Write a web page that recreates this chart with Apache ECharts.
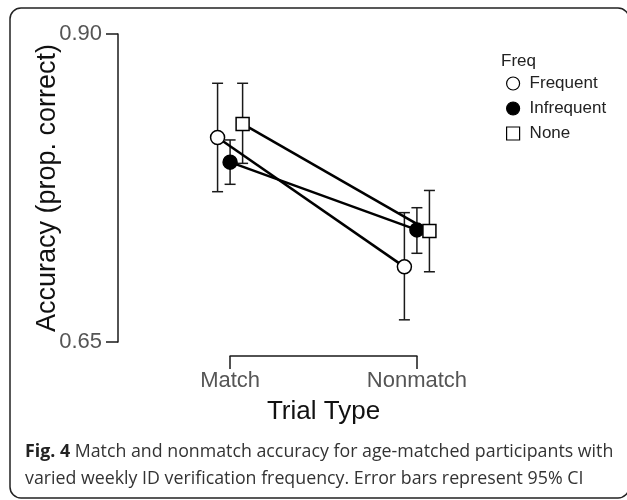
<!DOCTYPE html>
<html>
<head>
<meta charset="utf-8">
<script src="https://cdn.jsdelivr.net/npm/echarts@6/dist/echarts.min.js"></script>
<style>
  html, body { margin: 0; padding: 0; background: #fff; }
  #chart { width: 627px; height: 500px; }
</style>
</head>
<body>
<div id="chart"></div>
<script>
// Trial types on the x axis and the three frequency groups
const trialTypes = ['Match', 'Nonmatch'];
const freqGroups = ['Frequent', 'Infrequent', 'None'];

// Mean accuracy (proportion correct) per group, [Match, Nonmatch]
const meanFrequent   = [0.816, 0.711];
const meanInfrequent = [0.796, 0.741];
const meanNone       = [0.827, 0.740];

// 95% CI bounds per group, [Match, Nonmatch]
const lowFrequent    = [0.772, 0.668];
const highFrequent   = [0.860, 0.755];
const lowInfrequent  = [0.778, 0.722];
const highInfrequent = [0.814, 0.759];
const lowNone        = [0.795, 0.707];
const highNone       = [0.860, 0.773];

// Y axis tick values
const yTicks = [0.65, 0.90];

// ---- layout ----
const gridLeft = 118, gridTop = 34, gridWidth = 411, gridHeight = 308;
const xMin = 0.4, xMax = 2.6;
const dodge = [-0.067, 0, 0.067];
const capHalf = 5.5;
const ink = '#1a1a1a';
const tickGray = '#555';
const sans = 'Liberation Sans, Arial, sans-serif';

const means = [meanFrequent, meanInfrequent, meanNone];
const lows = [lowFrequent, lowInfrequent, lowNone];
const highs = [highFrequent, highInfrequent, highNone];

const markerStyles = [
  { symbol: 'circle', size: 14, fill: '#fff' },
  { symbol: 'circle', size: 14, fill: '#000' },
  { symbol: 'rect',   size: 13, fill: '#fff' }
];

// pixel position of category positions 1 and 2 on the data grid
const pxOf = v => gridLeft + (v - xMin) / (xMax - xMin) * gridWidth;
const bracketLeft = pxOf(1);
const bracketRight = pxOf(2);

const series = [];

// error bars (drawn underneath)
freqGroups.forEach((g, gi) => {
  series.push({
    type: 'custom',
    name: g + ' CI',
    xAxisIndex: 0, yAxisIndex: 0,
    z: 1,
    silent: true,
    data: trialTypes.map((t, ti) => [ti + 1 + dodge[gi], lows[gi][ti], highs[gi][ti]]),
    renderItem: function (params, api) {
      const x = api.value(0);
      const lo = api.coord([x, api.value(1)]);
      const hi = api.coord([x, api.value(2)]);
      const st = { stroke: ink, lineWidth: 1.5 };
      return {
        type: 'group',
        children: [
          { type: 'line', shape: { x1: lo[0], y1: lo[1], x2: hi[0], y2: hi[1] }, style: st },
          { type: 'line', shape: { x1: lo[0] - capHalf, y1: lo[1], x2: lo[0] + capHalf, y2: lo[1] }, style: st },
          { type: 'line', shape: { x1: hi[0] - capHalf, y1: hi[1], x2: hi[0] + capHalf, y2: hi[1] }, style: st }
        ]
      };
    }
  });
});

// mean lines with markers
freqGroups.forEach((g, gi) => {
  const m = markerStyles[gi];
  series.push({
    type: 'line',
    name: g,
    xAxisIndex: 0, yAxisIndex: 0,
    z: 3,
    data: trialTypes.map((t, ti) => [ti + 1 + dodge[gi], means[gi][ti]]),
    symbol: m.symbol,
    symbolSize: m.size,
    showAllSymbol: true,
    itemStyle: { color: m.fill, borderColor: '#000', borderWidth: 1.5, opacity: 1 },
    lineStyle: { color: '#000', width: 2.5 },
    emphasis: { disabled: true },
    animation: false
  });
});

const chart = echarts.init(document.getElementById('chart'), null, { renderer: 'canvas' });

chart.setOption({
  backgroundColor: '#fff',
  animation: false,
  textStyle: { fontFamily: sans },
  title: {
    text: 'Freq',
    left: 496, top: 48,
    textStyle: { fontSize: 17, fontWeight: 'normal', color: '#222', fontFamily: sans }
  },
  legend: {
    orient: 'vertical',
    left: 501, top: 70,
    itemWidth: 13, itemHeight: 13, itemGap: 8,
    selectedMode: false,
    textStyle: { fontSize: 17, color: '#222', padding: [0, 0, 0, 5], fontFamily: sans },
    data: freqGroups.map((g, gi) => ({
      name: g,
      icon: markerStyles[gi].symbol,
      itemStyle: { color: markerStyles[gi].fill, borderColor: '#000', borderWidth: 1.2 }
    }))
  },
  grid: [
    { left: gridLeft, top: gridTop, width: gridWidth, height: gridHeight },
    { left: bracketLeft, top: 356, width: bracketRight - bracketLeft, height: 0 }
  ],
  xAxis: [
    { type: 'value', gridIndex: 0, min: xMin, max: xMax, show: false },
    {
      type: 'category', gridIndex: 1, data: trialTypes, boundaryGap: false,
      position: 'top',
      axisLine: { show: true, lineStyle: { color: ink, width: 1.5 } },
      axisTick: { show: true, inside: true, length: 13, lineStyle: { color: ink, width: 1.5 } },
      axisLabel: { show: false },
      splitLine: { show: false }
    }
  ],
  yAxis: [
    {
      type: 'value', gridIndex: 0, min: 0.65, max: 0.90,
      name: 'Accuracy (prop. correct)',
      nameLocation: 'middle', nameGap: 57,
      nameMoveOverlap: false,
      nameTextStyle: { fontSize: 27, color: '#111' },
      axisLine: { show: true, lineStyle: { color: ink, width: 1.5 } },
      axisTick: { show: true, length: 12, customValues: yTicks, lineStyle: { color: ink, width: 1.5 } },
      axisLabel: {
        customValues: yTicks, margin: 16, fontSize: 22, color: tickGray,
        formatter: v => v.toFixed(2)
      },
      splitLine: { show: false }
    },
    { type: 'value', gridIndex: 1, show: false }
  ],
  graphic: [
    {
      type: 'rect', silent: true,
      shape: { x: 10, y: 8, width: 619, height: 490, r: 11 },
      style: { fill: 'none', stroke: '#222', lineWidth: 1.5 }
    },
    // x tick labels and axis title beneath the bracket
    {
      type: 'text', silent: true,
      style: { x: bracketLeft, y: 381, text: trialTypes[0], align: 'center', verticalAlign: 'middle', fontSize: 22, fill: tickGray, fontFamily: sans }
    },
    {
      type: 'text', silent: true,
      style: { x: bracketRight, y: 381, text: trialTypes[1], align: 'center', verticalAlign: 'middle', fontSize: 22, fill: tickGray, fontFamily: sans }
    },
    {
      type: 'text', silent: true,
      style: { x: (bracketLeft + bracketRight) / 2, y: 412, text: 'Trial Type', align: 'center', verticalAlign: 'middle', fontSize: 26, fill: '#111', fontFamily: sans }
    },
    // figure caption
    {
      type: 'text', silent: true,
      style: {
        x: 25, y: 452, verticalAlign: 'middle',
        text: '{b|Fig. 4} Match and nonmatch accuracy for age-matched participants with',
        fontSize: 17.8, fill: '#333', fontFamily: 'Open Sans, sans-serif',
        rich: { b: { fontWeight: 'bold', fontSize: 17.8, fill: '#222', fontFamily: 'Open Sans, sans-serif' } }
      }
    },
    {
      type: 'text', silent: true,
      style: {
        x: 25, y: 479, verticalAlign: 'middle',
        text: 'varied weekly ID verification frequency. Error bars represent 95% CI',
        fontSize: 17.8, fill: '#333', fontFamily: 'Open Sans, sans-serif'
      }
    }
  ],
  series: series
});
</script>
</body>
</html>
